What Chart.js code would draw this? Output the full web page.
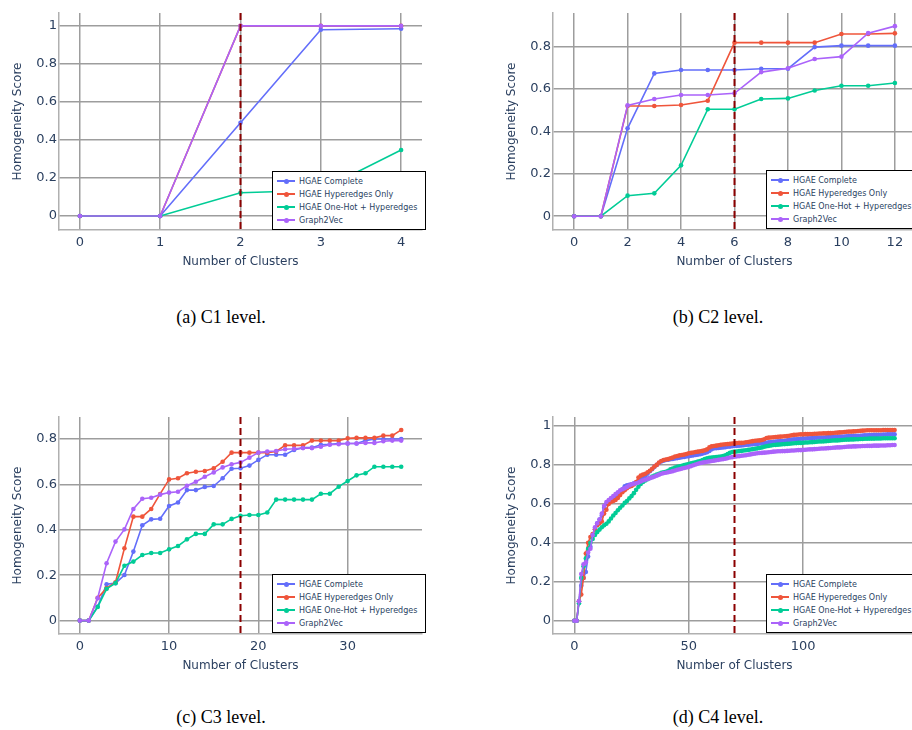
<!DOCTYPE html>
<html>
<head>
<meta charset="utf-8">
<script src="https://cdn.jsdelivr.net/npm/chart.js@4"></script>
<style>
  html, body {
    margin: 0;
    padding: 0;
    width: 912px;
    height: 730px;
    overflow: hidden;
    background: #fff;
  }
  .panel {
    position: absolute;
    width: 426px;
    height: 280px;
  }
  .legend {
    position: absolute;
    width: 154px;
    height: 59px;
    box-sizing: border-box;
    border: 1px solid #000;
    background: #fff;
    padding-top: 2.5px;
    font-family: "DejaVu Sans", sans-serif;
    font-size: 8px;
    color: #2a3f5f;
  }
  .legend-row {
    height: 13px;
    display: flex;
    align-items: center;
    white-space: nowrap;
  }
  .swatch {
    position: relative;
    width: 18px;
    height: 13px;
    margin-left: 4px;
    margin-right: 4px;
    flex: none;
  }
  .swatch .line {
    position: absolute;
    left: 0;
    right: 0;
    top: 5.5px;
    height: 1.6px;
  }
  .swatch .dot {
    position: absolute;
    left: 6.5px;
    top: 4px;
    width: 5px;
    height: 5px;
    border-radius: 50%;
  }
  .caption {
    position: absolute;
    width: 300px;
    text-align: center;
    font-family: "Liberation Serif", serif;
    font-size: 18px;
    line-height: 22px;
    color: #000;
  }
</style>
</head>
<body>

<canvas id="chartC1" class="panel" width="426" height="280" style="left:0px; top:0px;"></canvas>
<canvas id="chartC2" class="panel" width="426" height="280" style="left:494px; top:0px;"></canvas>
<canvas id="chartC3" class="panel" width="426" height="280" style="left:0px; top:404px;"></canvas>
<canvas id="chartC4" class="panel" width="426" height="280" style="left:494px; top:404px;"></canvas>

<div id="legendC1" class="legend" style="left:272px; top:171px;"></div>
<div id="legendC2" class="legend" style="left:766px; top:170px;"></div>
<div id="legendC3" class="legend" style="left:272px; top:574px;"></div>
<div id="legendC4" class="legend" style="left:766px; top:574px;"></div>

<div class="caption" style="left:71px; top:306px;">(a) C1 level.</div>
<div class="caption" style="left:568px; top:306px;">(b) C2 level.</div>
<div class="caption" style="left:71px; top:706px;">(c) C3 level.</div>
<div class="caption" style="left:568px; top:706px;">(d) C4 level.</div>

<script>
const seriesNames = [
  "HGAE Complete",
  "HGAE Hyperedges Only",
  "HGAE One-Hot + Hyperedges",
  "Graph2Vec"
];

const seriesColors = ["#636efa", "#ef553b", "#00cc96", "#ab63fa"];

const yTicksFull = [0, 0.2, 0.4, 0.6, 0.8, 1];
const yTicksShort = [0, 0.2, 0.4, 0.6, 0.8];

// C1 level
const c1Clusters = [0, 1, 2, 3, 4];
const c1Complete = [0, 0, 0.49, 0.98, 0.985];
const c1HyperOnly = [0, 0, 1, 1, 1];
const c1OneHot = [0, 0, 0.122, 0.135, 0.347];
const c1Graph2Vec = [0, 0, 1, 1, 1];
const c1XTicks = [0, 1, 2, 3, 4];
const c1Optimal = 2;

// C2 level
const c2Clusters = [0, 1, 2, 3, 4, 5, 6, 7, 8, 9, 10, 11, 12];
const c2Complete = [0, 0, 0.415, 0.674, 0.69, 0.69, 0.69, 0.696, 0.696, 0.798, 0.805, 0.805, 0.805];
const c2HyperOnly = [0, 0, 0.52, 0.52, 0.525, 0.545, 0.819, 0.819, 0.819, 0.819, 0.86, 0.86, 0.863];
const c2OneHot = [0, 0, 0.097, 0.108, 0.24, 0.505, 0.505, 0.553, 0.556, 0.593, 0.616, 0.616, 0.629];
const c2Graph2Vec = [0, 0, 0.523, 0.553, 0.572, 0.572, 0.58, 0.68, 0.698, 0.742, 0.753, 0.864, 0.897];
const c2XTicks = [0, 2, 4, 6, 8, 10, 12];
const c2Optimal = 6;

// C3 level
const c3Clusters = [0, 1, 2, 3, 4, 5, 6, 7, 8, 9, 10, 11, 12, 13, 14, 15, 16, 17, 18,
  19, 20, 21, 22, 23, 24, 25, 26, 27, 28, 29, 30, 31, 32, 33, 34, 35, 36];
const c3Complete = [0, 0, 0.062, 0.16, 0.165, 0.201, 0.304, 0.42, 0.446, 0.449, 0.505, 0.52,
  0.575, 0.575, 0.589, 0.593, 0.627, 0.669, 0.671, 0.683, 0.708, 0.731, 0.731, 0.731, 0.752,
  0.762, 0.762, 0.775, 0.777, 0.78, 0.78, 0.78, 0.793, 0.8, 0.8, 0.8, 0.8];
const c3HyperOnly = [0, 0, 0.1, 0.143, 0.169, 0.319, 0.458, 0.458, 0.492, 0.558, 0.622, 0.627,
  0.649, 0.656, 0.659, 0.671, 0.7, 0.74, 0.74, 0.74, 0.74, 0.74, 0.745, 0.772, 0.772, 0.772,
  0.793, 0.793, 0.793, 0.793, 0.803, 0.805, 0.805, 0.805, 0.815, 0.815, 0.84];
const c3OneHot = [0, 0, 0.06, 0.14, 0.165, 0.242, 0.26, 0.289, 0.298, 0.298, 0.314, 0.329,
  0.358, 0.382, 0.382, 0.424, 0.424, 0.448, 0.462, 0.465, 0.465, 0.476, 0.533, 0.533, 0.533,
  0.533, 0.533, 0.559, 0.559, 0.59, 0.615, 0.64, 0.649, 0.678, 0.678, 0.678, 0.678];
const c3Graph2Vec = [0, 0, 0.099, 0.253, 0.348, 0.402, 0.492, 0.537, 0.541, 0.555, 0.564, 0.568,
  0.594, 0.612, 0.634, 0.653, 0.675, 0.689, 0.697, 0.718, 0.74, 0.745, 0.747, 0.755, 0.757,
  0.76, 0.76, 0.766, 0.775, 0.777, 0.78, 0.78, 0.783, 0.783, 0.79, 0.793, 0.793];
const c3XTicks = [0, 10, 20, 30];
const c3Optimal = 18;

// C4 level
const c4Clusters = [
  0, 1, 2, 3, 4, 5, 6, 7, 8, 9, 10, 11, 12, 13, 14, 15, 16, 17, 18, 19,
  20, 21, 22, 23, 24, 25, 26, 27, 28, 29, 30, 31, 32, 33, 34, 35, 36, 37, 38, 39,
  40, 41, 42, 43, 44, 45, 46, 47, 48, 49, 50, 51, 52, 53, 54, 55, 56, 57, 58, 59,
  60, 61, 62, 63, 64, 65, 66, 67, 68, 69, 70, 71, 72, 73, 74, 75, 76, 77, 78, 79,
  80, 81, 82, 83, 84, 85, 86, 87, 88, 89, 90, 91, 92, 93, 94, 95, 96, 97, 98, 99,
  100, 101, 102, 103, 104, 105, 106, 107, 108, 109, 110, 111, 112, 113, 114, 115, 116, 117, 118, 119,
  120, 121, 122, 123, 124, 125, 126, 127, 128, 129, 130, 131, 132, 133, 134, 135, 136, 137, 138, 139,
  140
];
const c4Complete = [
  0, 0, 0.100, 0.180, 0.220, 0.250, 0.330, 0.380, 0.440, 0.470,
  0.500, 0.520, 0.540, 0.580, 0.600, 0.610, 0.615, 0.620, 0.630, 0.645,
  0.660, 0.675, 0.690, 0.695, 0.698, 0.700, 0.705, 0.710, 0.718, 0.724,
  0.730, 0.742, 0.755, 0.768, 0.778, 0.790, 0.800, 0.810, 0.818, 0.822,
  0.825, 0.827, 0.829, 0.831, 0.833, 0.835, 0.837, 0.839, 0.841, 0.843,
  0.845, 0.847, 0.849, 0.851, 0.853, 0.855, 0.858, 0.861, 0.865, 0.872,
  0.880, 0.885, 0.886, 0.887, 0.888, 0.890, 0.891, 0.893, 0.894, 0.896,
  0.897, 0.898, 0.899, 0.900, 0.901, 0.903, 0.904, 0.905, 0.906, 0.907,
  0.908, 0.910, 0.911, 0.913, 0.914, 0.916, 0.918, 0.919, 0.920, 0.921,
  0.922, 0.923, 0.924, 0.926, 0.928, 0.930, 0.931, 0.932, 0.933, 0.934,
  0.935, 0.936, 0.937, 0.937, 0.938, 0.939, 0.940, 0.940, 0.941, 0.941,
  0.942, 0.943, 0.943, 0.944, 0.944, 0.945, 0.945, 0.946, 0.946, 0.947,
  0.948, 0.948, 0.949, 0.949, 0.950, 0.950, 0.951, 0.952, 0.952, 0.953,
  0.953, 0.954, 0.954, 0.955, 0.955, 0.956, 0.956, 0.957, 0.957, 0.957,
  0.957
];
const c4HyperOnly = [
  0, 0, 0.100, 0.135, 0.220, 0.345, 0.400, 0.430, 0.445, 0.470,
  0.490, 0.500, 0.510, 0.550, 0.570, 0.600, 0.610, 0.615, 0.620, 0.630,
  0.645, 0.660, 0.670, 0.680, 0.688, 0.692, 0.700, 0.712, 0.735, 0.745,
  0.750, 0.755, 0.762, 0.770, 0.780, 0.792, 0.800, 0.812, 0.820, 0.825,
  0.828, 0.830, 0.834, 0.838, 0.843, 0.846, 0.849, 0.851, 0.853, 0.856,
  0.860, 0.862, 0.864, 0.866, 0.868, 0.870, 0.872, 0.875, 0.880, 0.890,
  0.895, 0.897, 0.899, 0.901, 0.903, 0.905, 0.906, 0.907, 0.908, 0.910,
  0.911, 0.912, 0.913, 0.913, 0.914, 0.916, 0.918, 0.920, 0.922, 0.924,
  0.925, 0.926, 0.928, 0.932, 0.938, 0.940, 0.941, 0.942, 0.943, 0.944,
  0.945, 0.946, 0.947, 0.948, 0.950, 0.952, 0.954, 0.955, 0.956, 0.957,
  0.957, 0.958, 0.958, 0.959, 0.959, 0.960, 0.960, 0.961, 0.961, 0.962,
  0.962, 0.963, 0.963, 0.964, 0.965, 0.966, 0.967, 0.968, 0.969, 0.970,
  0.971, 0.971, 0.972, 0.973, 0.974, 0.975, 0.976, 0.977, 0.978, 0.978,
  0.978, 0.978, 0.978, 0.978, 0.978, 0.979, 0.979, 0.979, 0.979, 0.979,
  0.979
];
const c4OneHot = [
  0, 0, 0.090, 0.220, 0.280, 0.320, 0.370, 0.400, 0.420, 0.440,
  0.455, 0.468, 0.480, 0.490, 0.498, 0.510, 0.525, 0.540, 0.553, 0.567,
  0.580, 0.592, 0.605, 0.615, 0.628, 0.640, 0.655, 0.672, 0.688, 0.702,
  0.712, 0.720, 0.727, 0.733, 0.740, 0.745, 0.750, 0.755, 0.759, 0.762,
  0.765, 0.770, 0.778, 0.782, 0.786, 0.790, 0.793, 0.796, 0.799, 0.802,
  0.805, 0.808, 0.811, 0.814, 0.817, 0.820, 0.825, 0.830, 0.834, 0.836,
  0.838, 0.839, 0.840, 0.842, 0.843, 0.845, 0.850, 0.856, 0.862, 0.866,
  0.868, 0.869, 0.871, 0.872, 0.874, 0.875, 0.877, 0.879, 0.881, 0.883,
  0.885, 0.887, 0.890, 0.893, 0.896, 0.898, 0.900, 0.902, 0.903, 0.904,
  0.905, 0.906, 0.907, 0.908, 0.909, 0.910, 0.911, 0.912, 0.913, 0.913,
  0.914, 0.915, 0.915, 0.916, 0.917, 0.918, 0.919, 0.920, 0.920, 0.921,
  0.922, 0.923, 0.924, 0.925, 0.926, 0.926, 0.927, 0.928, 0.929, 0.930,
  0.930, 0.931, 0.931, 0.932, 0.932, 0.933, 0.933, 0.934, 0.934, 0.935,
  0.935, 0.935, 0.936, 0.936, 0.936, 0.937, 0.937, 0.937, 0.937, 0.937,
  0.937
];
const c4Graph2Vec = [
  0, 0, 0.100, 0.240, 0.290, 0.300, 0.350, 0.370, 0.440, 0.480,
  0.500, 0.520, 0.550, 0.590, 0.610, 0.620, 0.630, 0.640, 0.650, 0.660,
  0.670, 0.675, 0.680, 0.687, 0.694, 0.700, 0.703, 0.706, 0.710, 0.715,
  0.720, 0.724, 0.728, 0.732, 0.736, 0.740, 0.745, 0.750, 0.755, 0.758,
  0.760, 0.762, 0.765, 0.768, 0.771, 0.775, 0.778, 0.781, 0.784, 0.787,
  0.790, 0.794, 0.798, 0.802, 0.806, 0.810, 0.812, 0.814, 0.816, 0.818,
  0.820, 0.822, 0.824, 0.826, 0.828, 0.830, 0.832, 0.835, 0.838, 0.840,
  0.842, 0.844, 0.845, 0.847, 0.848, 0.850, 0.852, 0.854, 0.856, 0.858,
  0.860, 0.861, 0.862, 0.863, 0.864, 0.865, 0.866, 0.868, 0.869, 0.870,
  0.870, 0.871, 0.871, 0.872, 0.873, 0.874, 0.874, 0.875, 0.876, 0.876,
  0.877, 0.878, 0.879, 0.880, 0.880, 0.881, 0.882, 0.883, 0.884, 0.884,
  0.885, 0.886, 0.887, 0.888, 0.889, 0.890, 0.890, 0.891, 0.892, 0.893,
  0.894, 0.894, 0.895, 0.895, 0.896, 0.896, 0.897, 0.897, 0.898, 0.898,
  0.898, 0.899, 0.899, 0.899, 0.900, 0.900, 0.900, 0.901, 0.901, 0.902,
  0.902
];
const c4XTicks = [0, 50, 100];
const c4Optimal = 70;

const textColor = "#2a3f5f";
const gridColor = "#9d9d9d";
const fontFamily = "'DejaVu Sans', Verdana, sans-serif";

// dashed vertical marker at the chosen number of clusters
const optimalLinePlugin = {
  id: "optimalLine",
  afterDatasetsDraw(chart, args, opts) {
    const x = chart.scales.x.getPixelForValue(opts.value);
    const { top, bottom } = chart.chartArea;
    const ctx = chart.ctx;

    ctx.save();
    ctx.strokeStyle = "#8b0000";
    ctx.lineWidth = 2;
    ctx.setLineDash([7, 4]);
    ctx.beginPath();
    ctx.moveTo(x, top);
    ctx.lineTo(x, bottom);
    ctx.stroke();
    ctx.restore();
  }
};

function formatTick(value) {
  if (Number.isInteger(value)) return String(value);
  return value.toFixed(1);
}

function renderLevelChart(canvasId, clusters, series, xRange, xTicks, yRange, yTicks, optimal) {
  const datasets = series.map((values, index) => ({
    label: seriesNames[index],
    data: values,
    borderColor: seriesColors[index],
    backgroundColor: seriesColors[index],
    borderWidth: 1.6,
    pointRadius: 2.3,
    pointBorderWidth: 0,
    pointBackgroundColor: seriesColors[index],
    tension: 0,
    order: series.length - index
  }));

  return new Chart(document.getElementById(canvasId), {
    type: "line",
    data: {
      labels: clusters,
      datasets: datasets
    },
    options: {
      responsive: false,
      animation: false,
      layout: {
        padding: { top: 13, right: 0, bottom: 0, left: 0 }
      },
      plugins: {
        legend: { display: false },
        tooltip: { enabled: false },
        optimalLine: { value: optimal }
      },
      scales: {
        x: {
          type: "linear",
          min: xRange[0],
          max: xRange[1],
          afterBuildTicks: axis => {
            axis.ticks = xTicks.map(v => ({ value: v }));
          },
          afterFit: axis => {
            axis.height = 50;
          },
          grid: { color: gridColor, lineWidth: 1.5, drawTicks: false },
          border: { display: true, color: "#b0b0b0", width: 1.5 },
          ticks: {
            padding: 5,
            color: textColor,
            font: { family: fontFamily, size: 13 },
            maxRotation: 0,
            callback: value => formatTick(value)
          },
          title: {
            display: true,
            text: "Number of Clusters",
            color: textColor,
            font: { family: fontFamily, size: 12 },
            padding: { top: 0, bottom: 11 }
          }
        },
        y: {
          type: "linear",
          min: yRange[0],
          max: yRange[1],
          afterBuildTicks: axis => {
            axis.ticks = yTicks.map(v => ({ value: v }));
          },
          afterFit: axis => {
            axis.width = 59;
          },
          grid: { color: gridColor, lineWidth: 1.5, drawTicks: false },
          border: { display: true, color: "#b0b0b0", width: 1.5 },
          ticks: {
            padding: 2,
            color: textColor,
            font: { family: fontFamily, size: 13 },
            callback: value => formatTick(value)
          },
          title: {
            display: true,
            text: "Homogeneity Score",
            color: textColor,
            font: { family: fontFamily, size: 12 },
            padding: { top: 11, bottom: 0 }
          }
        }
      }
    },
    plugins: [optimalLinePlugin]
  });
}

function renderLegend(containerId) {
  const container = document.getElementById(containerId);

  seriesNames.forEach((name, index) => {
    const row = document.createElement("div");
    row.className = "legend-row";

    const swatch = document.createElement("span");
    swatch.className = "swatch";
    swatch.innerHTML =
      `<span class="line" style="background:${seriesColors[index]}"></span>` +
      `<span class="dot" style="background:${seriesColors[index]}"></span>`;

    const label = document.createElement("span");
    label.textContent = name;

    row.appendChild(swatch);
    row.appendChild(label);
    container.appendChild(row);
  });
}

renderLevelChart("chartC1", c1Clusters,
  [c1Complete, c1HyperOnly, c1OneHot, c1Graph2Vec],
  [-0.26, 4.26], c1XTicks, [-0.074, 1.068], yTicksFull, c1Optimal);

renderLevelChart("chartC2", c2Clusters,
  [c2Complete, c2HyperOnly, c2OneHot, c2Graph2Vec],
  [-0.79, 12.79], c2XTicks, [-0.065, 0.959], yTicksShort, c2Optimal);

renderLevelChart("chartC3", c3Clusters,
  [c3Complete, c3HyperOnly, c3OneHot, c3Graph2Vec],
  [-2.33, 38.33], c3XTicks, [-0.059, 0.897], yTicksShort, c3Optimal);

renderLevelChart("chartC4", c4Clusters,
  [c4Complete, c4HyperOnly, c4OneHot, c4Graph2Vec],
  [-9.35, 149.35], c4XTicks, [-0.068, 1.046], yTicksFull, c4Optimal);

renderLegend("legendC1");
renderLegend("legendC2");
renderLegend("legendC3");
renderLegend("legendC4");
</script>
</body>
</html>
